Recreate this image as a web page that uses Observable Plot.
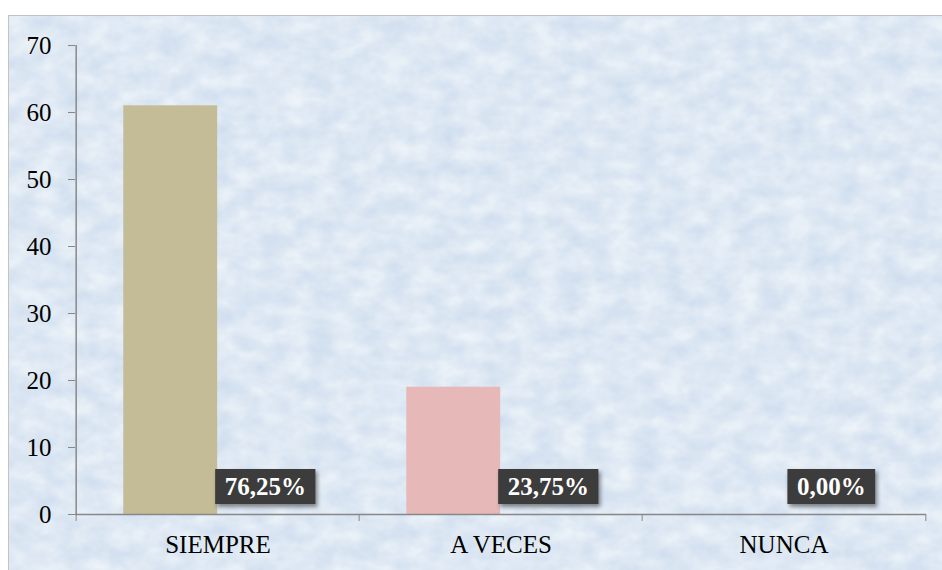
<!DOCTYPE html>
<html>
<head>
<meta charset="utf-8">
<script src="https://cdn.jsdelivr.net/npm/d3@7"></script>
<script src="https://cdn.jsdelivr.net/npm/@observablehq/plot@0.6"></script>
<style>
  html, body { margin: 0; padding: 0; background: #fff; width: 942px; height: 570px; overflow: hidden; }
  #frame { position: absolute; left: 8px; top: 15px; width: 940px; height: 560px; border: 1.5px solid #c3c3c3; box-sizing: border-box; overflow: hidden; }
  #frame svg { display: block; }
  #chart { position: absolute; left: 0; top: 0; }
  #chart svg, #chart svg text { font-family: "Liberation Serif", "Tinos", "DejaVu Serif", serif !important; }
</style>
</head>
<body>
<div id="frame">
  <svg width="940" height="560">
    <filter id="noise" x="0" y="0" width="100%" height="100%" color-interpolation-filters="sRGB">
      <feTurbulence type="fractalNoise" baseFrequency="0.04 0.055" numOctaves="3" seed="11"/>
      <feColorMatrix type="matrix" values="0.15 0 0 0 0.795  0.11 0 0 0 0.855  0.05 0 0 0 0.93  0 0 0 0 1"/>
    </filter>
    <rect width="940" height="560" filter="url(#noise)"/>
  </svg>
</div>
<div id="chart"></div>
<script>
const categories = ["SIEMPRE", "A VECES", "NUNCA"];
const counts = [61, 19, 0];
const percentLabels = ["76,25%", "23,75%", "0,00%"];
const barColors = ["#c4bc96", "#e6b9b8", "#b9cde5"];
const yTicks = [0, 10, 20, 30, 40, 50, 60, 70];
const yDomain = [0, 70];

const data = categories.map((c, i) => ({category: c, count: counts[i], pct: percentLabels[i], color: barColors[i]}));

const W = 942, H = 570, mL = 75, mR = 16, mT = 45, mB = 56;
const bw = (W - mL - mR) / categories.length;
const font = "Liberation Serif, Tinos, DejaVu Serif, serif";
const axisColor = "#878787";

const plot = Plot.plot({
  width: W, height: H,
  marginLeft: mL, marginRight: mR, marginTop: mT, marginBottom: mB,
  style: {background: "transparent", fontFamily: font, fontSize: "25px", color: "#000", overflow: "visible"},
  x: {domain: categories, padding: 0, axis: null, label: null},
  y: {domain: yDomain, axis: null, label: null},
  marks: [
    Plot.barY(data, {x: "category", y: "count", fill: "color", insetLeft: bw / 6, insetRight: bw / 2}),
    Plot.ruleY([0], {stroke: axisColor, strokeWidth: 1.5}),
    Plot.ruleX([categories[0]], {dx: -bw / 2, y1: yDomain[0], y2: yDomain[1], stroke: axisColor, strokeWidth: 1.5}),
    Plot.axisY({ticks: yTicks, tickSize: 7, tickPadding: 17, stroke: axisColor, fill: "#000", fontSize: 25, fontFamily: font, label: null}),
    Plot.axisX({tickSize: 7, tickFormat: () => "", dx: -bw / 2, stroke: axisColor, label: null}),
    Plot.axisX({ticks: [categories[categories.length - 1]], tickSize: 7, tickFormat: () => "", dx: bw / 2, stroke: axisColor, label: null}),
    Plot.axisX({tickSize: 0, tickPadding: 21, fill: "#000", fontSize: 25, fontFamily: font, label: null}),
    Plot.text(data, {x: "category", y: 0, text: "pct", dx: bw / 6, dy: -27.5, fill: "white", fontWeight: "bold", fontSize: 25, fontFamily: font, className: "pct"})
  ]
});

document.getElementById("chart").append(plot);

const ns = "http://www.w3.org/2000/svg";
let texts = plot.querySelectorAll("g.pct text");
if (!texts.length) {
  texts = Array.from(plot.querySelectorAll("text")).filter(t => percentLabels.includes(t.textContent));
}
texts.forEach(t => {
  const b = t.getBBox();
  const r = document.createElementNS(ns, "rect");
  r.setAttribute("x", b.x - 9.5);
  r.setAttribute("y", b.y - 4);
  r.setAttribute("width", b.width + 19);
  r.setAttribute("height", b.height + 8);
  r.setAttribute("fill", "#3c3c3c");
  if (t.getAttribute("transform")) r.setAttribute("transform", t.getAttribute("transform"));
  r.style.filter = "drop-shadow(2px 3px 2px rgba(0,0,0,0.45))";
  t.parentNode.insertBefore(r, t);
});
</script>
</body>
</html>
